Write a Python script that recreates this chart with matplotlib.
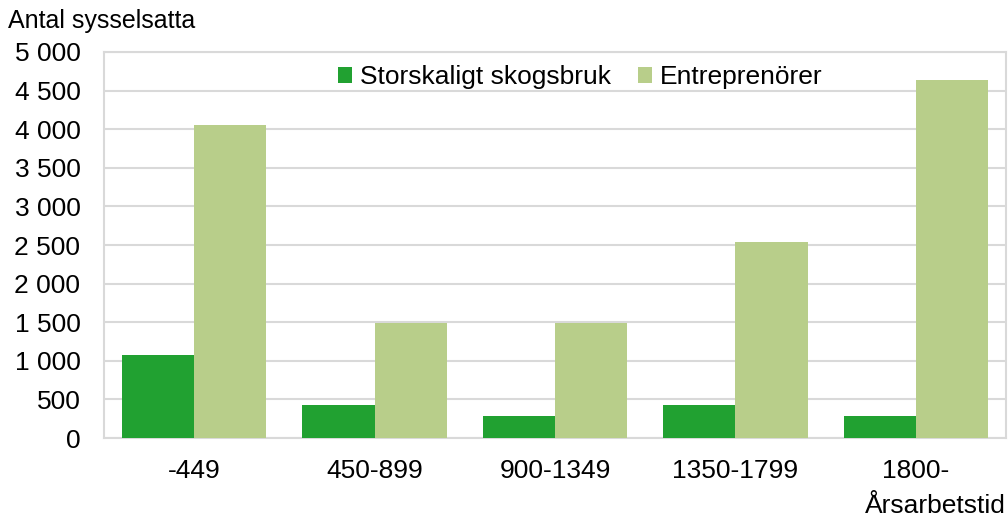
import matplotlib.pyplot as plt
from matplotlib.ticker import FuncFormatter
import numpy as np

plt.rcParams['font.family'] = ['Liberation Sans', 'DejaVu Sans']

# Antal sysselsatta per årsarbetstid
kategorier = ["-449", "450-899", "900-1349", "1350-1799", "1800-"]
storskaligt = [1080, 425, 285, 425, 282]
entreprenorer = [4050, 1490, 1495, 2540, 4640]

morkgron = "#21a131"
ljusgron = "#b8ce8a"
grid = "#d9d9d9"

fig = plt.figure(figsize=(10.08, 5.21), dpi=100)
ax = fig.add_axes([0.1032, 0.1593, 0.8948, 0.7409])

x = np.arange(len(kategorier))
w = 0.4
ax.bar(x - w / 2, storskaligt, w, color=morkgron, label="Storskaligt skogsbruk", zorder=3)
ax.bar(x + w / 2, entreprenorer, w, color=ljusgron, label="Entreprenörer", zorder=3)

ax.set_xlim(-0.5, len(kategorier) - 0.5)
ax.set_ylim(0, 5000)
ax.set_yticks(range(0, 5001, 500))
ax.yaxis.set_major_formatter(FuncFormatter(lambda v, p: f"{int(v):,}".replace(",", " ")))
ax.set_xticks(x)
ax.set_xticklabels(kategorier)
ax.tick_params(length=0, labelsize=19)
ax.tick_params(axis="y", pad=17)
ax.tick_params(axis="x", pad=15)

ax.grid(axis="y", color=grid, linewidth=1.5, zorder=0)
for s in ax.spines.values():
    s.set_color(grid)
    s.set_linewidth(1.5)

ax.set_xlabel("Årsarbetstid", fontsize=19, loc="right", labelpad=8)
fig.text(8 / 1008, 1 - 28 / 521, "Antal sysselsatta", fontsize=18, va="baseline", ha="left")

ax.legend(loc="center", bbox_to_anchor=(0.528, 0.935), ncol=2, frameon=False, fontsize=19,
          handlelength=0.55, handleheight=0.55, handletextpad=0.3, columnspacing=1.0)

plt.savefig("out.png", dpi=100)
